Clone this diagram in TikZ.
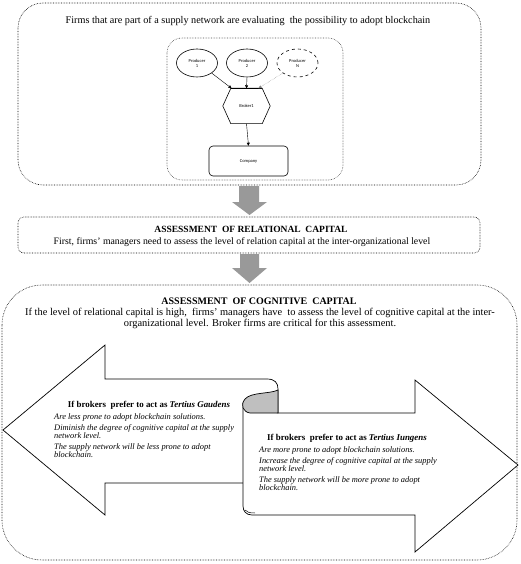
\documentclass[tikz,border=0pt]{standalone}
\usepackage{fontspec}
\setmainfont{Liberation Serif}
\newfontfamily\calib{Carlito}
\usetikzlibrary{arrows.meta,shapes.geometric,positioning}
\tikzset{
  dotbox/.style={draw, densely dotted, line width=0.6pt, rounded corners=#1},
  firm/.style={draw, ellipse, minimum width=41pt, minimum height=28pt, inner sep=0pt,
    line width=0.6pt, align=center, font=\calib\fontsize{4.5}{5}\selectfont},
  link/.style={-{Triangle[length=3pt,width=3pt]}, line width=0.4pt},
  bigarrow/.style={fill=gray!80, draw=none},
  scroll/.style={draw, fill=white, line width=0.7pt, line join=miter},
  headtext/.style={font=\bfseries\fontsize{8.9}{10}\selectfont, inner sep=0pt},
  itext/.style={font=\itshape\fontsize{8.4}{8.2}\selectfont, align=left, inner sep=0pt},
}
\begin{document}
\begin{tikzpicture}[x=1pt,y=-1pt]
\useasboundingbox (0,0) rectangle (520,564);
% grey arrows between the boxes
\fill[bigarrow] (239,186) -- (259,186) -- (259,202) -- (267,202) -- (249.5,215)
  -- (232,202) -- (239,202) -- cycle;
\fill[bigarrow] (240,254) -- (259,254) -- (259,268) -- (267,268) -- (249.5,283)
  -- (232,268) -- (240,268) -- cycle;

% supply network
\draw[dotbox=25pt] (18,3) rectangle (481,185);
\node (intro) at (248,21) {\fontsize{10.2}{12}\selectfont Firms that are part of a supply network are evaluating\ \ the possibility to adopt blockchain};
\draw[dotbox=15pt, gray!60!black] (167,38) rectangle (343,180);
\node[firm] (p1) at (197,63) {Producer\\1};
\node[firm] (p2) at (247,63) {Producer\\2};
\node[firm, dashed] (pn) at (297.5,63) {Producer\\N};
\node[inner sep=0pt, minimum width=47pt, minimum height=35pt,
  font=\calib\fontsize{4.5}{5}\selectfont] (broker) at (246.5,106) {Broker1};
\draw[line width=0.6pt] ([xshift=8pt]broker.north west) -- ([xshift=-8pt]broker.north east)
  -- (broker.east) -- ([xshift=-8pt]broker.south east) -- ([xshift=8pt]broker.south west)
  -- (broker.west) -- cycle;
\draw[line width=1.3pt] ([xshift=8pt]broker.north west) -- ([xshift=-8pt]broker.north east);
\node[draw, rounded corners=4pt, line width=0.6pt, minimum width=79pt, minimum height=30pt,
  font=\calib\fontsize{4.5}{5}\selectfont] (company) at (248.5,161) {Company};
\coordinate (in1) at ([xshift=-15pt]broker.north);
\coordinate (in3) at ([xshift=12pt]broker.north);
\draw[link] (p1.south east) -- (in1);
\draw[link] (p2.south) -- (broker.north);
\draw[link, densely dotted, gray] (pn.south west) -- (in3);
\draw[link] (broker.south) -- (company.north);

% relational capital
\draw[dotbox=6pt] (18,217) rectangle (480,253);
\node (relt) at (251,229) {\bfseries\fontsize{9.5}{11}\selectfont ASSESSMENT\ \ OF RELATIONAL\ \ CAPITAL};
\node (relb) at (242,242) {\fontsize{9.8}{11}\selectfont First, firms' managers need to assess the level of relation capital at the inter-organizational level};

% cognitive capital
\draw[dotbox=40pt] (2,285) rectangle (517,560);
\node (cogt) at (259,301) {\bfseries\fontsize{10}{11}\selectfont ASSESSMENT\ \ OF COGNITIVE\ \ CAPITAL};
\node[align=center, font=\fontsize{10.4}{11.5}\selectfont] (cogb) at (260,318.5)
  {If the level of relational capital is high,\ \ firms' managers have\ \ to assess the level of cognitive capital at the inter-\\
   organizational level. Broker firms are critical for this assessment.};

% the two scroll arrows
\draw[scroll] (3,430) -- (105,345) -- (105,379) -- (267,379)
  .. controls (275,379) and (278,383) .. (278,389) -- (278,483) -- (105,483)
  -- (105,515) -- cycle;
\draw[scroll] (278,413) -- (415,413) -- (415,380) -- (518,465) -- (415,552)
  -- (415,515) -- (252,515) .. controls (246,515) and (243,511) .. (243,506)
  -- (243,403) -- cycle;
\draw[line width=0.7pt, fill=gray!50] (278,390) .. controls (270,394) and (251,392) .. (245,399)
  .. controls (240,405) and (243,412) .. (250,413) -- (278,413) -- cycle;
\draw[line width=0.5pt] (245,510) .. controls (247,512.5) and (250,513) .. (255,513);

\node[headtext] (gaudt) at (149,405) {If brokers\ \ prefer to act as \textit{Tertius Gaudens}};
\node[itext, anchor=north west] (gaudb) at (54,413)
  {Are less prone to adopt blockchain solutions.\\[3pt]
   Diminish the degree of cognitive capital at the supply\\
   network level.\\[3pt]
   The supply network will be less prone to adopt\\
   blockchain.};
\node[headtext] (iungt) at (347,438) {If brokers\ \ prefer to act as \textit{Tertius Iungens}};
\node[itext, anchor=north west] (iungb) at (259,446)
  {Are more prone to adopt blockchain solutions.\\[3pt]
   Increase the degree of cognitive capital at the supply\\
   network level.\\[3pt]
   The supply network will be more prone to adopt\\
   blockchain.};
\end{tikzpicture}
\end{document}
